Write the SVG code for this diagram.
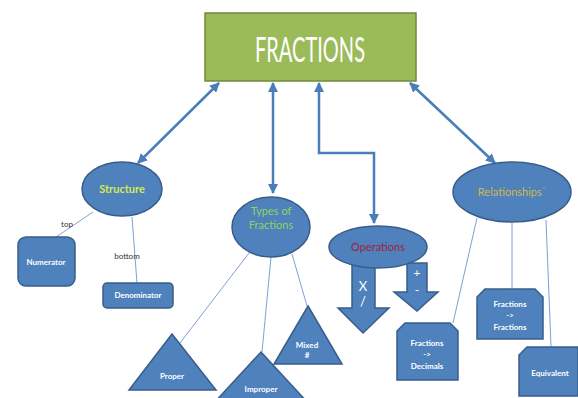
<svg xmlns="http://www.w3.org/2000/svg" width="578" height="398" viewBox="0 0 578 398">
<defs>
<style>
.shape{fill:#4f81bd;stroke:#385d8a;stroke-width:1.5}
.thin{stroke:#5b8ac6;stroke-width:0.8;fill:none}
.conn{stroke:#4a7ebb;stroke-width:2.5;fill:none}
.lbl{font-family:Lato,"Open Sans",sans-serif;font-size:8px;fill:#ffffff;font-weight:bold;text-anchor:middle}
.el{font-family:Lato,"Open Sans",sans-serif;font-size:11px;text-anchor:middle}
.small{font-family:Lato,"Open Sans",sans-serif;font-size:8px;fill:#333333;text-anchor:middle}
</style>
<marker id="ah" viewBox="0 0 10 10" refX="9" refY="5" markerWidth="4" markerHeight="4" orient="auto-start-reverse" markerUnits="strokeWidth">
<path d="M0,0 L10,5 L0,10 z" fill="#4a7ebb"/>
</marker>
</defs>
<rect width="578" height="398" fill="#ffffff"/>

<g id="connectors">
<path class="conn" d="M219,83 L138,163" marker-start="url(#ah)" marker-end="url(#ah)"/>
<path class="conn" d="M273,83 L273,193" marker-start="url(#ah)" marker-end="url(#ah)"/>
<path class="conn" d="M319,83 L319,153 L374,153 L374,223" marker-start="url(#ah)" marker-end="url(#ah)"/>
<path class="conn" d="M410,83 L495,163" marker-start="url(#ah)" marker-end="url(#ah)"/>
<path class="thin" d="M93,212 L56,237"/>
<path class="thin" d="M132,217 L137,283"/>
<path class="thin" d="M249,253 L180,343"/>
<path class="thin" d="M271,257 L262,352"/>
<path class="thin" d="M292,254 L307,306"/>
<path class="thin" d="M477,218 L453,323"/>
<path class="thin" d="M512,223 L512,289"/>
<path class="thin" d="M546,220 L551,347"/>
</g>

<g id="title">
<rect x="205" y="13" width="211" height="68" fill="#9bbb59" stroke="#71893f" stroke-width="1.5"/>
<text x="310" y="62" font-family="Lato,'Open Sans',sans-serif" font-size="34" fill="#ffffff" text-anchor="middle" textLength="110" lengthAdjust="spacingAndGlyphs">FRACTIONS</text>
</g>

<g id="structure">
<ellipse class="shape" cx="122" cy="189" rx="40" ry="27"/>
<text class="el" x="122" y="193" fill="#d6ea4a" font-weight="bold">Structure</text>
</g>
<g id="numerator">
<rect class="shape" x="18" y="237" width="57" height="49" rx="8"/>
<text class="lbl" x="46" y="265">Numerator</text>
</g>
<g id="denominator">
<rect class="shape" x="103" y="283" width="70" height="25" rx="4"/>
<text class="lbl" x="138" y="298">Denominator</text>
</g>
<text class="small" x="67" y="227">top</text>
<text class="small" x="127" y="259">bottom</text>

<g id="types">
<ellipse class="shape" cx="271" cy="227" rx="39" ry="30"/>
<text class="el" x="271" y="215" fill="#8fd45a">Types of</text>
<text class="el" x="271" y="229" fill="#8fd45a">Fractions</text>
</g>
<g id="proper">
<polygon class="shape" points="172,334 216,390 129,390"/>
<text class="lbl" x="172" y="379">Proper</text>
</g>
<g id="improper">
<polygon class="shape" points="261,352 309,404 213,404"/>
<text class="lbl" x="261" y="392">Improper</text>
</g>
<g id="mixed">
<polygon class="shape" points="308,306 342,364 274,364"/>
<text class="lbl" x="307" y="348">Mixed</text>
<text class="lbl" x="307" y="358">#</text>
</g>

<g id="arrow-multiply">
<polygon class="shape" points="352,262 375,262 375,308 389,308 363,333 338,308 352,308"/>
<text x="363" y="291" font-family="Lato,'Open Sans',sans-serif" font-size="13" fill="#ffffff" text-anchor="middle">X</text>
<text x="363" y="306" font-family="Lato,'Open Sans',sans-serif" font-size="13" fill="#ffffff" text-anchor="middle">/</text>
</g>
<g id="arrow-add">
<polygon class="shape" points="407,263 427,263 427,292 438,292 417,311 394,292 407,292"/>
<text x="417" y="277" font-family="Lato,'Open Sans',sans-serif" font-size="12" fill="#ffffff" text-anchor="middle">+</text>
<text x="417" y="294" font-family="Lato,'Open Sans',sans-serif" font-size="12" fill="#ffffff" text-anchor="middle">-</text>
</g>
<g id="operations">
<ellipse class="shape" cx="378" cy="247" rx="49" ry="21"/>
<text class="el" x="378" y="251" fill="#a3203c">Operations</text>
</g>

<g id="relationships">
<ellipse class="shape" cx="512" cy="192" rx="59" ry="30"/>
<text class="el" x="512" y="196" fill="#cdb94a">Relationships`</text>
</g>
<g id="frac-dec">
<polygon class="shape" points="405,323 450,323 458,331 458,380 397,380 397,331"/>
<text class="lbl" x="427" y="346">Fractions</text>
<text class="lbl" x="427" y="357">-&gt;</text>
<text class="lbl" x="427" y="369">Decimals</text>
</g>
<g id="frac-frac">
<polygon class="shape" points="485,289 535,289 543,297 543,339 477,339 477,297"/>
<text class="lbl" x="510" y="307">Fractions</text>
<text class="lbl" x="510" y="318">-&gt;</text>
<text class="lbl" x="510" y="330">Fractions</text>
</g>
<g id="equivalent">
<polygon class="shape" points="527,347 578,347 578,396 519,396 519,355"/>
<text class="lbl" x="550" y="376">Equivalent</text>
</g>
</svg>
